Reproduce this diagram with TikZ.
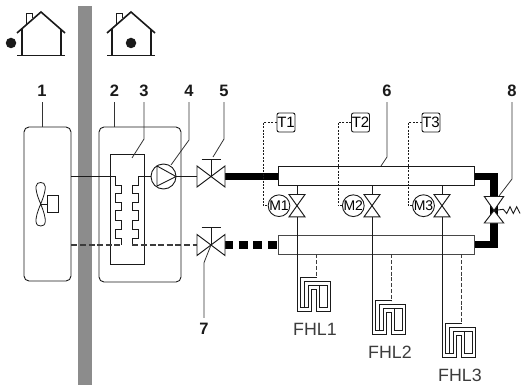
\documentclass[tikz,border=0pt]{standalone}
\usepackage{fontspec}
\setmainfont{Liberation Sans}
\usetikzlibrary{calc}
\definecolor{wallgray}{HTML}{8C8C8C}
\definecolor{ink}{HTML}{1A1A1A}
\definecolor{leader}{HTML}{333333}
\tikzset{
  line/.style={ink,line width=0.95pt},
  leaderline/.style={leader,line width=0.8pt},
  num/.style={font=\fontsize{16.5}{16.5}\selectfont\bfseries,inner sep=0pt,minimum height=22pt,text=ink},
  fhl/.style={font=\fontsize{17.8}{17.8}\selectfont,inner sep=0pt,text=ink!85},
  unit/.style={draw=ink,line width=0.9pt,rounded corners=5pt,inner sep=0pt},
  plain/.style={draw=ink,line width=1pt,inner sep=0pt},
  tbox/.style={draw=ink,line width=0.9pt,rounded corners=2pt,inner sep=0pt,minimum width=18pt,minimum height=19pt,font=\fontsize{15}{15}\selectfont},
  motor/.style={circle,draw=ink,line width=0.9pt,inner sep=0pt,minimum size=21pt,font=\fontsize{14}{14}\selectfont},
  pump/.style={circle,draw=ink,line width=0.9pt,inner sep=0pt,minimum size=25pt},
  ctrl/.style={ink,line width=0.9pt,dash pattern=on 2pt off 1.4pt},
  flowdash/.style={ink!85,line width=1.3pt,dash pattern=on 6pt off 2.6pt},
  thick pipe/.style={black,line width=7.5pt},
  house/.pic={
    \draw[ink,line width=1.6pt] (-24,21) -- (0,0) -- (24,21);
    \draw[ink,line width=1.2pt] (-19,17) -- (-19,43.5) (20,17) -- (20,43.5);
    \draw[ink,line width=1.3pt] (-24,43.5) -- (24,43.5);
    \draw[ink,line width=0.9pt] (-15,12) -- (-15,1) -- (-9,1) -- (-9,6);
  },
  hvalve/.pic={
    \draw[ink,line width=0.95pt,fill=white] (0,0) -- (-14,-10.5) -- (-14,10.5) -- cycle;
    \draw[ink,line width=0.95pt,fill=white] (0,0) -- (14,-10.5) -- (14,10.5) -- cycle;
    \draw[ink,line width=0.95pt] (0,0) -- (0,-17.5) (-9.5,-17.5) -- (9.5,-17.5);
  },
  vvalve/.pic={
    \draw[ink,line width=0.95pt,fill=white] (0,0) -- (-8,-11.2) -- (8,-11.2) -- cycle;
    \draw[ink,line width=0.95pt,fill=white] (0,0) -- (-8,11.2) -- (8,11.2) -- cycle;
  },
  bigvalve/.pic={
    \draw[ink,line width=0.95pt,fill=white] (0,0) -- (-9.7,-14) -- (9.7,-14) -- cycle;
    \draw[ink,line width=0.95pt,fill=white] (0,0) -- (-9.7,12.5) -- (9.7,12.5) -- cycle;
  },
  loop/.pic={
    \draw[ink,line width=1pt,line join=miter]
      (0,0) -- (14.3,0) -- (14.3,-22) -- (19,-22) -- (19,0) -- (33.3,0) -- (33.3,-30) -- (7.3,-30) -- (7.3,-3.7);
    \draw[ink,line width=1pt]
      (20,-33.7) -- (3.7,-33.7) -- (3.7,-3.7) -- (11,-3.7) -- (11,-26) -- (22.3,-26) -- (22.3,-3.7) -- (30,-3.7) -- (30,-26) -- (22.3,-26);
  }
}
\begin{document}
\begin{tikzpicture}[x=1pt,y=-1pt]
\useasboundingbox (0,0) rectangle (521,385);
% wall
\fill[wallgray] (78,6) rectangle (92,385);
% houses
\pic at (41,12) {house};
\pic at (131,12) {house};
\node[circle,fill=ink,minimum size=10.5pt,inner sep=0pt] (dot1) at (11,43) {};
\node[circle,fill=ink,minimum size=10.5pt,inner sep=0pt] (dot2) at (131,43) {};
% units
\node[unit,minimum width=47pt,minimum height=154pt] (b1) at (47.5,204) {};
\node[unit,minimum width=82pt,minimum height=155pt] (b2) at (140,204.5) {};
\node[plain,minimum width=34.5pt,minimum height=110pt] (b3) at (127.3,209.5) {};
% manifolds
\node[plain,fill=white,minimum width=195.5pt,minimum height=19pt] (m1) at (376.7,176) {};
\node[plain,draw=ink!80,fill=white,minimum width=195.5pt,minimum height=19pt] (m2) at (376.7,244.7) {};
% key points
\coordinate (v5) at (211,176.5);
\coordinate (v7) at (211,245);
\coordinate (v8) at (494,210.5);
% pipes between 1, 3 and pump
\node[pump] (p) at (163.5,176.5) {};
\draw[line] (b1.east |- v5) -- (115,176.5) -- (115,185) -- (121.7,185) -- (121.7,193.3) -- (115.8,193.3) -- (115.8,202.3) -- (121.7,202.3) -- (121.7,210.7) -- (115.8,210.7) -- (115.8,220) -- (121.7,220) -- (121.7,229.3) -- (115.8,229.3) -- (115.8,238.3) -- (121.7,238.3) -- (121.7,245);
\draw[line] (p.west) -- (138.3,176.5) -- (138.3,185) -- (132.3,185) -- (132.3,193.3) -- (138.3,193.3) -- (138.3,202.3) -- (132.3,202.3) -- (132.3,210.7) -- (138.3,210.7) -- (138.3,220) -- (132.3,220) -- (132.3,229.3) -- (138.3,229.3) -- (138.3,238.3) -- (132.3,238.3) -- (132.3,245);
\draw[line] (p.east) -- (v5);
\draw[ink,line width=0.9pt,line join=miter] (157,166) -- (176,176.5) -- (157,186) -- cycle;
\draw[flowdash] (b1.east |- v7) -- (121.7,245);
\draw[flowdash] (132.3,245) -- (v7);
% fan
\coordinate (fan) at (40.7,204);
\node[draw=ink,line width=0.9pt,inner sep=0pt,minimum width=11.5pt,minimum height=17.5pt] (fanbox) at (53,204) {};
\draw[ink,line width=0.8pt] (fan) .. controls (33,186) and (36,182.5) .. (40.7,182.5) .. controls (45.5,182.5) and (48,186) .. (fan);
\draw[ink,line width=0.8pt] (fan) .. controls (33,222) and (36,226) .. (40.7,226) .. controls (45.5,226) and (48,222) .. (fan);
\draw[ink,line width=0.9pt] (fan) -- (fanbox.west);
% thick pipes
\draw[thick pipe] (225,176.3) -- (m1.west |- 0,176.3);
\draw[black,line width=8.5pt,dash pattern=on 9pt off 5.6pt] (224,245) -- (m2.west |- 0,245);
\draw[thick pipe,line join=miter] (m1.east |- 0,176.3) -- (494,176.3) -- (v8);
\draw[thick pipe,line join=miter] (v8) -- (494,244.6) -- (m2.east |- 0,244.6);
% valves
\pic at (v5) {hvalve};
\pic at (v7) {hvalve};
\pic at (v8) {bigvalve};
\draw[ink,line width=0.9pt] (v8) -- (503.3,209.3) -- (506.7,213.5) -- (510,206.7) -- (513.3,213.5) -- (516.7,206.7) -- (520,213.5);
% zone lines
\foreach \n/\vx/\mx/\dx/\tx/\lx/\yb/\fy in {1/297/279/263.3/286/316.7/311/329,2/372/353.3/338/360.5/391.7/334.3/352,3/442/423.5/408.3/431/461.7/357/375}{
  \coordinate (vz\n) at (\vx,205.7);
  \draw[line] (\vx,185.5) -- (vz\n);
  \draw[line] (vz\n) -- (\vx,\yb);
  \pic at (vz\n) {vvalve};
  \node[motor,fill=white] (M\n) at (\mx,205.7) {M\n};
  \node[tbox,fill=white] (T\n) at (\tx,122.5) {T\n};
  \coordinate (c\n) at (\dx,122.5);
  \draw[ctrl] (T\n.west) -- (c\n) -- (c\n |- M\n) -- (M\n.west);
  \pic at (\vx,\yb) {loop};
  \draw[flowdash,line width=1pt,dash pattern=on 4pt off 1.8pt] (\lx,254.2) -- (\lx,\yb-33.7);
  \node[fhl] (F\n) at (\lx-1.7,\fy) {FHL\n};
}
% labels and leaders
\node[num] (n1) at (42,91) {1};
\node[num] (n2) at (114.5,91) {2};
\node[num] (n3) at (144,91) {3};
\node[num] (n4) at (189,91) {4};
\node[num] (n5) at (224,91) {5};
\node[num] (n6) at (387,91) {6};
\node[num] (n7) at (204,329) {7};
\node[num] (n8) at (512,91) {8};
\draw[leaderline] (n1.south) -- (n1.south |- b1.north);
\draw[leaderline] (n2.south) -- (n2.south |- b2.north);
\draw[leaderline] (n3.south) -- (144,139) -- (132,158);
\draw[leaderline] (n4.south) -- (189,140) -- (171,165);
\draw[leaderline] (n5.south) -- (224,139) -- (213,157);
\draw[leaderline] (n6.south) -- (387,157) -- (381,166);
\draw[leaderline] (n8.south) -- (512,179) -- (499,196);
\draw[leaderline] (v7) -- (204,262.7) -- (n7.north);
\end{tikzpicture}
\end{document}
